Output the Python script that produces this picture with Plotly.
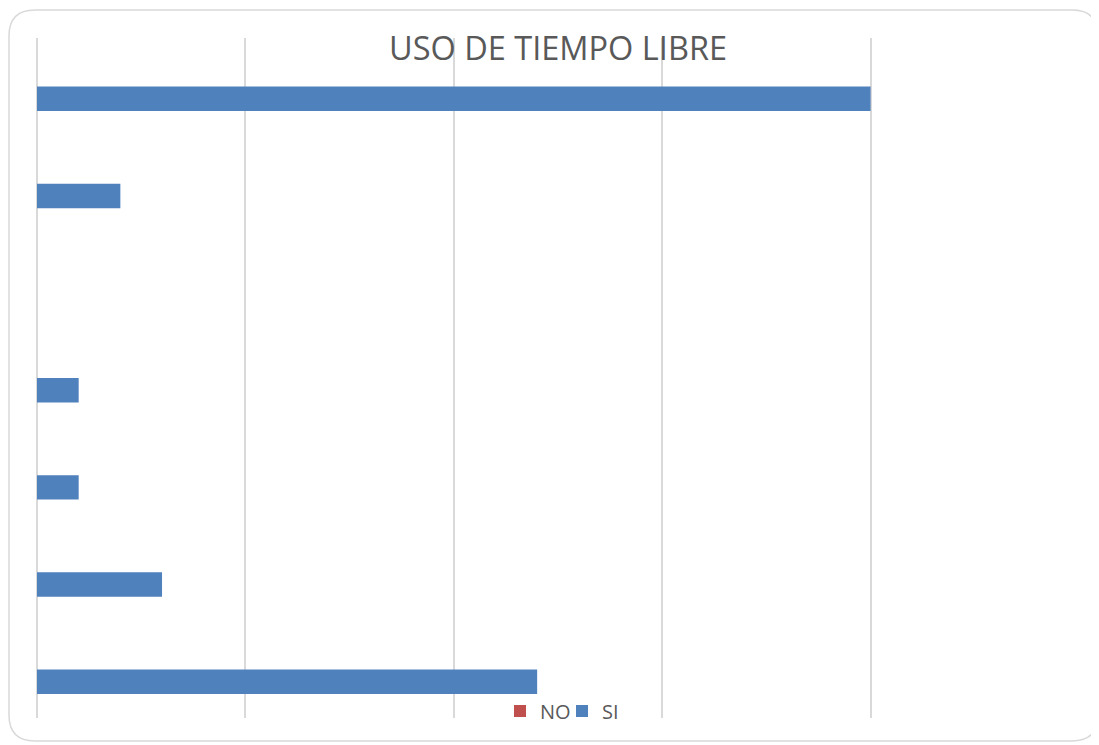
import plotly.graph_objects as go

categories = ["Cat 1", "Cat 2", "Cat 3", "Cat 4", "Cat 5", "Cat 6", "Cat 7"]
si_values = [20, 2, 0, 1, 1, 3, 12]
no_values = [0, 0, 0, 0, 0, 0, 0]

OFF = 8  # page body offset
W, H = 1099 - OFF, 745 - OFF
# plot area in screen px: x 37..1079, y 38..718
L, T = 37 - OFF, 38 - OFF
R = W - (1079 - OFF)
B = H - (718 - OFF)
pw, ph = W - L - R, H - T - B

def px2x(px):
    return (px - OFF - L) / pw

def px2y(py):
    return (H - B - (py - OFF)) / ph

fig = go.Figure()
fig.add_trace(go.Bar(y=categories, x=no_values, orientation="h", name="NO",
                     marker=dict(color="#C0504D", line=dict(width=0))))
fig.add_trace(go.Bar(y=categories, x=si_values, orientation="h", name="SI",
                     marker=dict(color="#4F81BD", line=dict(width=0))))

# rounded border (screen px)
x0, y0, x1, y1, r = 9, 10, 1098, 741, 26
pts = (f"M {px2x(x0 + r)},{px2y(y0)} L {px2x(x1 - r)},{px2y(y0)} "
       f"Q {px2x(x1)},{px2y(y0)} {px2x(x1)},{px2y(y0 + r)} "
       f"L {px2x(x1)},{px2y(y1 - r)} Q {px2x(x1)},{px2y(y1)} {px2x(x1 - r)},{px2y(y1)} "
       f"L {px2x(x0 + r)},{px2y(y1)} Q {px2x(x0)},{px2y(y1)} {px2x(x0)},{px2y(y1 - r)} "
       f"L {px2x(x0)},{px2y(y0 + r)} Q {px2x(x0)},{px2y(y0)} {px2x(x0 + r)},{px2y(y0)} Z")

fig.update_layout(
    width=W, height=H,
    margin=dict(l=L, r=R, t=T, b=B),
    paper_bgcolor="white", plot_bgcolor="white",
    barmode="group", bargap=0.496, bargroupgap=0,
    font=dict(family="Open Sans, sans-serif", color="#595959"),
    title=dict(text="USO DE TIEMPO LIBRE", x=px2x(558), xref="paper", xanchor="center",
               y=1 - (49 - OFF) / H, yanchor="middle", yref="container",
               font=dict(size=32.5, color="#595959", family="Open Sans, sans-serif")),
    xaxis=dict(range=[0, 25], dtick=5, showgrid=True, gridcolor="#D9D9D9", gridwidth=1.5,
               zeroline=True, zerolinecolor="#D9D9D9", zerolinewidth=1.5,
               showticklabels=False, ticks="", showline=False, fixedrange=True),
    yaxis=dict(autorange="reversed", showticklabels=False, ticks="", showgrid=False,
               zeroline=False, showline=False, categoryorder="array", categoryarray=categories),
    legend=dict(orientation="h", x=px2x(562), xanchor="center", y=px2y(711), yanchor="middle",
                font=dict(size=20, color="#595959"), bgcolor="rgba(0,0,0,0)",
                itemwidth=30, entrywidth=17, entrywidthmode="pixels"),
    shapes=[dict(type="path", path=pts, xref="paper", yref="paper",
                 line=dict(color="#D9D9D9", width=1.5), layer="below")],
    showlegend=True,
)
fig.update_layout(title_pad=dict(t=0, b=0))

fig.write_html("out.html")
